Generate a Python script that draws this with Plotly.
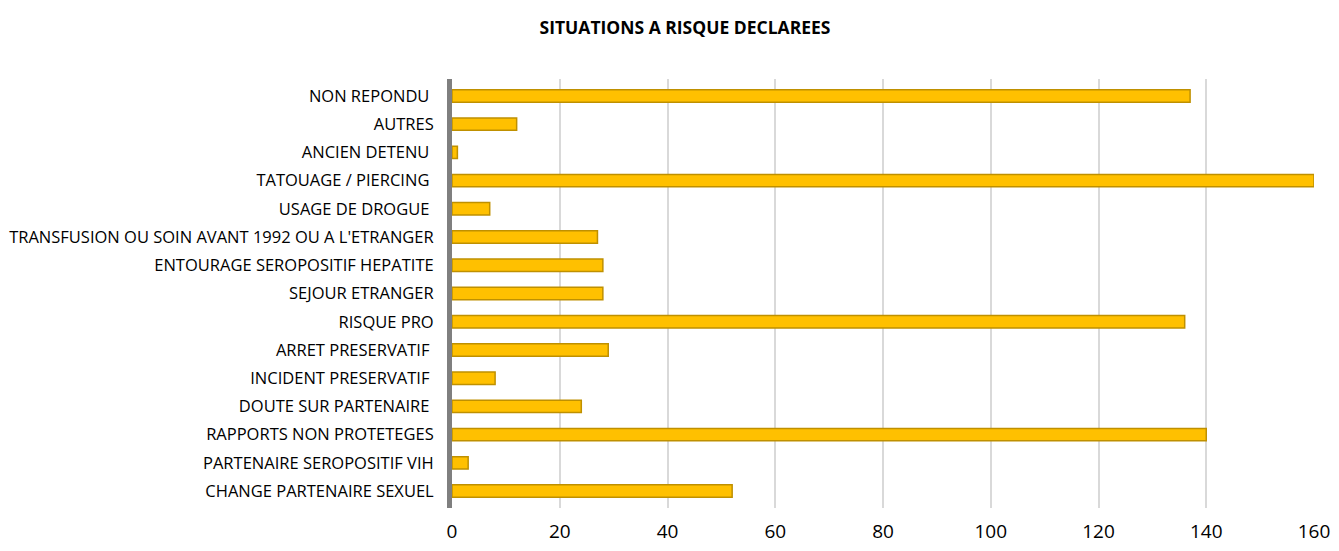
import plotly.graph_objects as go

categories = [
    "CHANGE PARTENAIRE SEXUEL",
    "PARTENAIRE SEROPOSITIF VIH",
    "RAPPORTS NON PROTETEGES",
    "DOUTE SUR PARTENAIRE ",
    "INCIDENT PRESERVATIF ",
    "ARRET PRESERVATIF ",
    "RISQUE PRO",
    "SEJOUR ETRANGER",
    "ENTOURAGE SEROPOSITIF HEPATITE",
    "TRANSFUSION OU SOIN AVANT 1992 OU A L'ETRANGER",
    "USAGE DE DROGUE ",
    "TATOUAGE / PIERCING ",
    "ANCIEN DETENU ",
    "AUTRES",
    "NON REPONDU ",
]
values = [52, 3, 140, 24, 8, 29, 136, 28, 28, 27, 7, 160, 1, 12, 137]
x_ticks = [0, 20, 40, 60, 80, 100, 120, 140, 160]

fig = go.Figure()

fig.add_trace(go.Bar(
    x=values,
    y=categories,
    orientation='h',
    marker=dict(color='#FFC000', line=dict(color='#BF9000', width=1.5)),
    width=0.44,
    hoverinfo='x+y',
))

# the page body has an 8px margin all round, so the figure must fit inside it
fig.update_layout(
    title=dict(
        text='<b>SITUATIONS A RISQUE DECLAREES</b>',
        x=0.5117, xref='container', xanchor='center',
        y=0.9625, yref='container', yanchor='middle',
        font=dict(family='Open Sans', size=17.5, color='#000000'),
    ),
    width=1323,
    height=535,
    margin=dict(l=444, r=17, t=71, b=35),
    plot_bgcolor='white',
    paper_bgcolor='white',
    showlegend=False,
    font=dict(family='Open Sans', color='#000000'),
    xaxis=dict(
        range=[0, 160],
        tickvals=x_ticks,
        showgrid=True,
        gridcolor='#D9D9D9',
        gridwidth=2,
        zeroline=False,
        showline=False,
        tickfont=dict(size=19, family='Open Sans'),
        ticklabelstandoff=10,
        automargin=False,
    ),
    yaxis=dict(
        categoryorder='array',
        categoryarray=categories,
        range=[-0.6, 14.6],
        showgrid=False,
        showline=True,
        linecolor='#7F7F7F',
        linewidth=5,
        tickfont=dict(size=16.5, family='Open Sans'),
        ticklabelstandoff=10,
        automargin=False,
    ),
)

fig.write_html("out.html")
